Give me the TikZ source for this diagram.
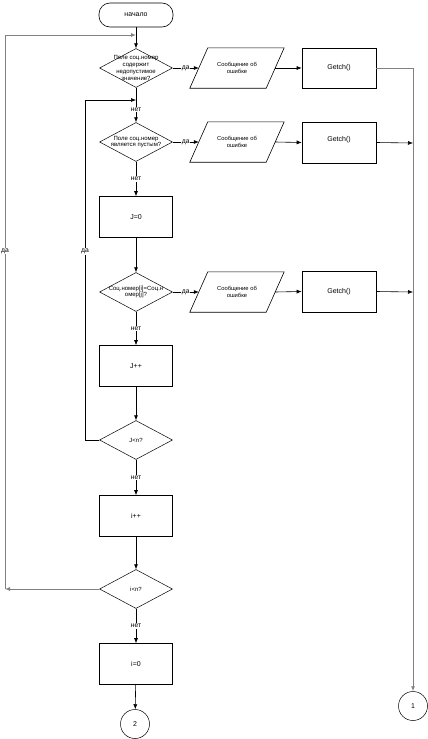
\documentclass[tikz,border=0pt]{standalone}
\usepackage{fontspec}
\setmainfont{Liberation Sans}
\usetikzlibrary{shapes.geometric,arrows.meta}
\definecolor{linegray}{RGB}{128,128,128}
\tikzset{
  ln/.style={draw=black, line width=0.6pt},
  arr/.style={ln, -{Latex[length=5pt,width=4pt]}},
  garr/.style={draw=linegray, line width=1pt, -{Latex[length=5pt,width=4pt]}},
  box/.style={draw, line width=0.6pt, minimum width=73pt, minimum height=41pt, inner sep=0pt, font=\fontsize{7}{8}\selectfont},
  dec/.style={diamond, draw, line width=0.5pt, minimum width=73pt, minimum height=39pt, inner sep=0pt},
  dtext/.style={font=\fontsize{6}{6.8}\selectfont, align=center},
  para/.style={minimum width=76pt, minimum height=40pt, inner sep=0pt, font=\fontsize{5.8}{6.6}\selectfont, align=center},
  lbl/.style={font=\fontsize{6.8}{7}\selectfont, fill=white, inner sep=0.8pt},
  conn/.style={circle, draw, line width=0.5pt, minimum size=29pt, inner sep=0pt, font=\fontsize{7}{8}\selectfont},
}
\begin{document}
\begin{tikzpicture}[x=1pt,y=-1pt]
\useasboundingbox[fill=white] (0,0) rectangle (428,739);
% main column
\node[draw, line width=0.6pt, rounded corners=11pt, minimum width=74pt, minimum height=24pt, inner sep=0pt, font=\fontsize{7}{8}\selectfont] (start) at (136,15) {начало};
\node[dec, label={[dtext]center:Поле соц.номер\\содержит\\недопустимое\\значение?}] (d1) at (136,68) {};
\node[dec, label={[dtext]center:Поле соц.номер\\является пустым?}] (d2) at (136,142) {};
\node[box] (j0) at (136,217) {J=0};
\node[dec, label={[dtext]center:Соц.номер[i]=Соц.н\\омер[j]?}] (d3) at (136,292) {};
\node[box] (jpp) at (136,366) {J++};
\node[dec, label={[dtext]center:J<n?}] (d4) at (136,440) {};
\node[box] (ipp) at (136,516) {i++};
\node[dec, label={[dtext]center:i<n?}] (d5) at (136,589) {};
\node[box] (i0) at (136,664) {i=0};
\node[conn] (c2) at (135,724) {2};
% right side
\node[para] (p1) at (237,68) {Сообщение об\\ошибке};
\node[para] (p2) at (237,142) {Сообщение об\\ошибке};
\node[para] (p3) at (237,292) {Сообщение об\\ошибке};
\foreach \n in {p1,p2,p3}
  \draw[line width=0.6pt] ([xshift=-9pt]\n.south west) -- ([xshift=9pt]\n.north west) -- ([xshift=9pt]\n.north east) -- ([xshift=-9pt]\n.south east) -- cycle;
\node[box, minimum width=74pt, minimum height=40pt] (g1) at (339,68) {Getch()};
\node[box, minimum width=74pt, minimum height=41pt] (g2) at (339,142.5) {\raisebox{8pt}{Getch()}};
\node[box, minimum width=74pt, minimum height=41pt] (g3) at (339,291.5) {Getch()};
\node[conn] (c1) at (413,706) {1};
% coordinates
\coordinate (top) at (136,35);
\coordinate (mid) at (136,100);
\coordinate (outl) at (5,589);
\coordinate (inl) at (85,440);
\coordinate (rl1) at (413,68);
\coordinate (rl2) at (413,143);
\coordinate (rl3) at (413,292);
% main flow
\draw[arr] (start) -- (d1);
\draw[arr] (d1) -- node[lbl, pos=0.64]{нет} (d2);
\draw[arr] (d2) -- node[lbl, pos=0.5]{нет} (j0);
\draw[arr] (j0) -- (d3);
\draw[arr] (d3) -- node[lbl, pos=0.5]{нет} (jpp);
\draw[arr] (jpp) -- (d4);
\draw[arr] (d4) -- node[lbl, pos=0.5]{нет} (ipp);
\draw[arr] (ipp) -- (d5);
\draw[arr] (d5) -- node[lbl, pos=0.5]{нет} (i0);
\draw[arr] (i0) -- (c2);
% yes branches
\draw[arr] (d1.east) -- node[lbl]{да} (p1.west);
\draw[arr] (d2.east) -- node[lbl]{да} (p2.west);
\draw[arr] (d3.east) -- node[lbl]{да} (p3.west);
\draw[arr] (p1.east) -- (g1.west);
\draw[arr] (p2.east) -- (g2.west);
\draw[arr] (p3.east) -- (g3.west);
\draw[draw=linegray, line width=1pt] (g1.east) -- (rl1);
\draw[garr] (rl1) -- (c1.north);
\draw[arr] (g2.east) -- (rl2);
\draw[arr] (g3.east) -- (rl3);
% inner loop
\draw[arr] (d4.west) -- (inl) -- node[lbl, pos=0.555]{да} (inl |- mid) -- (mid);
% outer loop
\draw[garr] (d5.west) -- (outl);
\draw[garr] (outl) -- node[lbl, pos=0.61]{да} (outl |- top) -- (top);
\end{tikzpicture}
\end{document}
